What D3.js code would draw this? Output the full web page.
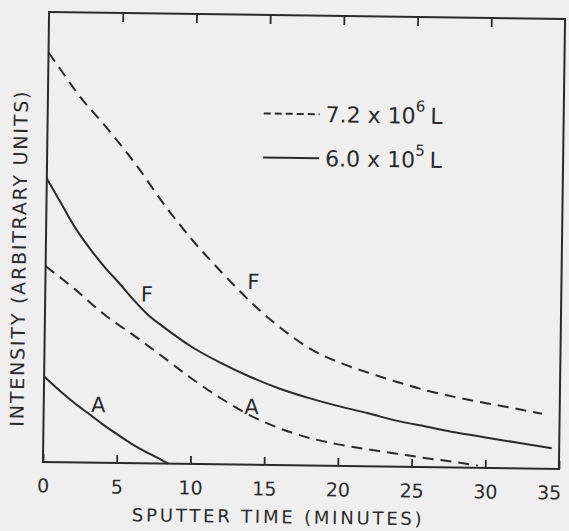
<!DOCTYPE html>
<html lang="en">
<head>
    <meta charset="UTF-8">
    <title>sputter profile</title>
    <script src="https://d3js.org/d3.v7.min.js"></script>
    <style>
        body {
            margin: 0;
            background: #efefef;
        }
        svg {
            display: block;
        }
        .lbl {
            font-family: "DejaVu Sans", sans-serif;
            fill: #2b2b2b;
        }
    </style>
</head>
<body>
    <div id="chart"></div>
    <script>
        // sputter time (minutes) and intensity (arbitrary)
        const fDashT = [0, 1, 2, 4, 6, 8, 10, 12, 14, 16, 18, 20, 22, 24, 26, 28, 30, 32, 33.8];
        const fDashV = [91, 86.5, 82, 74.5, 66.5, 57.5, 49.5, 42.5, 36, 30.5, 26, 23, 20.8, 18.8, 17, 15.6, 14.4, 13.3, 12.2];

        const fSolidT = [0, 1, 2, 3, 4, 5, 6, 7, 8, 10, 12, 14, 16, 18, 20, 22, 24, 26, 28, 30, 32, 34.5];
        const fSolidV = [63, 57.5, 52, 47.5, 43.5, 40, 36.3, 33, 30.5, 26, 22.5, 19.5, 17, 15, 13.3, 11.8, 10.2, 9, 7.8, 6.8, 5.8, 4.6];

        const aDashT = [0, 2, 4, 6, 8, 10, 12, 14, 16, 18, 20, 22, 24, 26, 28, 29.5];
        const aDashV = [43.5, 38.5, 33, 28.5, 23.8, 19, 14.7, 11, 8.2, 6.2, 4.8, 3.8, 2.9, 2, 1.2, 0.5];

        const aSolidT = [0, 1, 2, 3, 4, 5, 6, 7, 8, 8.5];
        const aSolidV = [19, 16.1, 13.4, 11, 8.6, 6.4, 4.3, 2.5, 0.9, 0];

        const xTicks = [0, 5, 10, 15, 20, 25, 30, 35];

        // curve labels: [text, time, intensity]
        const peakLabels = [["F", 6.9, 37.5], ["F", 14.1, 40.6], ["A", 3.7, 12.8], ["A", 14.1, 12.8]];
        const legendItems = [["7.2 x 10", "6", true], ["6.0 x 10", "5", false]];

        const W = 569, H = 531;
        const plotL = 46, plotR = 562, plotT = 15.5, plotB = 465.5;

        const svg = d3.select("#chart").append("svg")
            .attr("width", W)
            .attr("height", H);

        // the scan is slightly skewed
        const g = svg.append("g")
            .attr("transform", "rotate(0.78, 304, 240)");

        const x = d3.scaleLinear().domain([0, 35]).range([plotL, plotR]);
        const y = d3.scaleLinear().domain([0, 100]).range([plotB, plotT]);

        const ink = "#2b2b2b";

        g.append("rect")
            .attr("x", x(0)).attr("y", y(100))
            .attr("width", x(35) - x(0)).attr("height", y(0) - y(100))
            .attr("fill", "none").attr("stroke", ink).attr("stroke-width", 2);

        const bottomAxis = g.append("g")
            .attr("transform", `translate(0, ${plotB})`)
            .call(d3.axisBottom(x).tickValues(xTicks).tickSizeInner(-8).tickSizeOuter(0).tickPadding(17));
        bottomAxis.select(".domain").remove();
        bottomAxis.selectAll("line").attr("stroke", ink).attr("stroke-width", 1.8);
        bottomAxis.selectAll("text")
            .attr("class", "lbl")
            .attr("fill", ink)
            .style("font-size", "19px");
        bottomAxis.selectAll("text").filter(d => d === 35).attr("dx", -10);

        const topAxis = g.append("g")
            .attr("transform", `translate(0, ${plotT})`)
            .call(d3.axisTop(x).tickValues(xTicks.slice(1, -1)).tickSizeInner(-9).tickSizeOuter(0).tickFormat(""));
        topAxis.select(".domain").remove();
        topAxis.selectAll("line").attr("stroke", ink).attr("stroke-width", 1.8);

        const line = d3.line()
            .x(d => x(d[0]))
            .y(d => y(d[1]))
            .curve(d3.curveMonotoneX);

        const series = [
            [fDashT, fDashV, true],
            [fSolidT, fSolidV, false],
            [aDashT, aDashV, true],
            [aSolidT, aSolidV, false]
        ];

        series.forEach(([ts, vs, dashed]) => {
            g.append("path")
                .datum(ts.map((t, i) => [t, vs[i]]))
                .attr("d", line)
                .attr("fill", "none")
                .attr("stroke", ink)
                .attr("stroke-width", 2)
                .attr("stroke-dasharray", dashed ? "11,7" : null);
        });

        g.selectAll(".peak")
            .data(peakLabels)
            .enter().append("text")
            .attr("class", "lbl")
            .attr("x", d => x(d[1]))
            .attr("y", d => y(d[2]))
            .attr("text-anchor", "middle")
            .attr("dominant-baseline", "central")
            .style("font-size", "21px")
            .text(d => d[0]);

        // legend
        legendItems.forEach((d, i) => {
            const ly = 114 + i * 44;
            g.append("line")
                .attr("x1", 262).attr("x2", 318)
                .attr("y1", ly).attr("y2", ly)
                .attr("stroke", ink).attr("stroke-width", 2)
                .attr("stroke-dasharray", d[2] ? "7,4" : null);
            const t = g.append("text")
                .attr("class", "lbl")
                .attr("x", 324).attr("y", ly)
                .attr("dominant-baseline", "central")
                .style("font-size", "22px");
            t.append("tspan").text(d[0]);
            t.append("tspan").attr("dy", -9).style("font-size", "15px").text(d[1]);
            t.append("tspan").attr("dy", 9).attr("dx", 5).text("L");
        });

        g.append("text")
            .attr("class", "lbl")
            .attr("x", 282)
            .attr("y", 517)
            .attr("text-anchor", "middle")
            .attr("dominant-baseline", "central")
            .style("font-size", "18px")
            .style("letter-spacing", "2.8px")
            .text("SPUTTER TIME (MINUTES)");

        g.append("text")
            .attr("class", "lbl")
            .attr("transform", `translate(19, 262) rotate(-90)`)
            .attr("text-anchor", "middle")
            .attr("dominant-baseline", "central")
            .style("font-size", "19px")
            .style("letter-spacing", "1.8px")
            .text("INTENSITY (ARBITRARY UNITS)");
    </script>
</body>
</html>
